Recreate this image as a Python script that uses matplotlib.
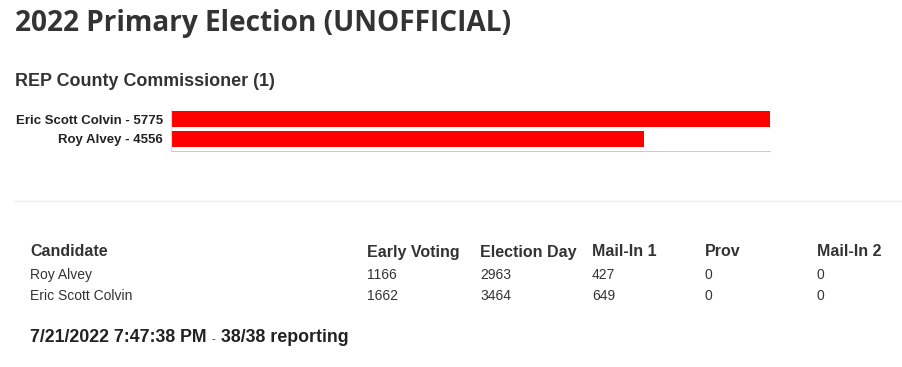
import matplotlib
matplotlib.use("Agg")
import matplotlib.pyplot as plt

W, H = 903, 367

title = "2022 Primary Election (UNOFFICIAL)"
race = "REP County Commissioner (1)"

# bar chart (top to bottom)
bar_names = ["Eric Scott Colvin", "Roy Alvey"]
bar_totals = [5775, 4556]

# results table
columns = ["Candidate", "Early Voting", "Election Day", "Mail-In 1", "Prov", "Mail-In 2"]
table_names = ["Roy Alvey", "Eric Scott Colvin"]
early_voting = [1166, 1662]
election_day = [2963, 3464]
mail_in_1 = [427, 649]
prov = [0, 0]
mail_in_2 = [0, 0]

timestamp = "7/21/2022 7:47:38 PM"
reporting = "38/38 reporting"

sans = "Liberation Sans"


def fx(px):
    return px / W


def fy(py):
    return 1 - py / H


fig = plt.figure(figsize=(W / 100, H / 100), dpi=100)
fig.patch.set_facecolor("white")

fig.text(fx(15), fy(23), title, family="Open Sans", weight="bold",
         fontsize=20.2, color="#333333", va="center")
fig.text(fx(15), fy(82), race, family=sans, weight="bold",
         fontsize=12.9, color="#333333", va="center")

# bars
ax = fig.add_axes([fx(171), fy(151), fx(770) - fx(171), (151 - 109) / H])
ypos = list(range(len(bar_names)))
ax.barh(ypos, bar_totals, height=0.8, color="#ff0000")
ax.set_xlim(0, max(bar_totals))
ax.set_ylim(1.6, -0.5)
ax.set_yticks(ypos)
ax.set_yticklabels([f"{n} - {t}" for n, t in zip(bar_names, bar_totals)],
                   family=sans, weight="bold", fontsize=9.5, color="#222222")
ax.tick_params(axis="y", length=0, pad=6)
ax.set_xticks([])
for s in ["top", "right"]:
    ax.spines[s].set_visible(False)
ax.spines["bottom"].set_color("#cccccc")
ax.spines["left"].set_color("#dddddd")
ax.spines["left"].set_linewidth(0.8)

# separator
fig.add_artist(plt.Line2D([fx(15), fx(903)], [fy(201), fy(201)], color="#eeeeee", lw=1))

# table
col_x = [30, 367, 480, 592, 705, 817]
for x, c in zip(col_x, columns):
    fig.text(fx(x), fy(252), c, family=sans, weight="bold", fontsize=11.5,
             color="#333333", va="center")
rows = list(zip(table_names, early_voting, election_day, mail_in_1, prov, mail_in_2))
for i, row in enumerate(rows):
    y = 275 + i * 21
    for x, v in zip(col_x, row):
        fig.text(fx(x), fy(y), str(v), family=sans, fontsize=10,
                 color="#333333", va="center")

fig.text(fx(30), fy(337), timestamp, family=sans, weight="bold", fontsize=12.8,
         color="#222222", va="center")
fig.text(fx(212), fy(339), "-", family=sans, fontsize=8, color="#222222", va="center")
fig.text(fx(221), fy(337), reporting, family=sans, weight="bold", fontsize=12.8,
         color="#222222", va="center")

fig.savefig("out.png", dpi=100, facecolor="white")
